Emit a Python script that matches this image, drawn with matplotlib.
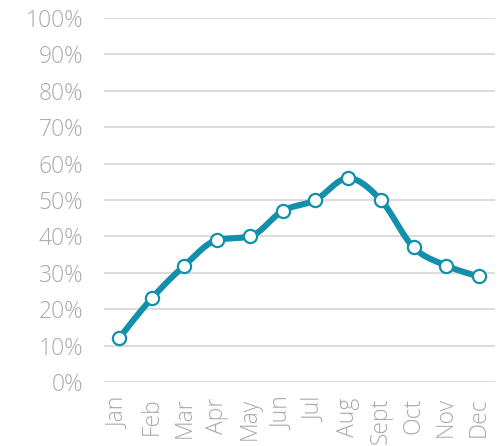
import numpy as np
import matplotlib
matplotlib.use("Agg")
import matplotlib.pyplot as plt

months = ["Jan", "Feb", "Mar", "Apr", "May", "Jun", "Jul", "Aug", "Sept", "Oct", "Nov", "Dec"]
values = [12, 23, 32, 39, 40, 47, 50, 56, 50, 37, 32, 29]
y_ticks = [0, 10, 20, 30, 40, 50, 60, 70, 80, 90, 100]

TEAL = "#118fab"
GRAY = "#aaaaaa"
GRID = "#dcdcdc"


def monotone_curve(x, y, n=30):
    # monotone cubic (like d3 curveMonotoneX), only used to draw the smooth line
    x = np.asarray(x, float)
    y = np.asarray(y, float)
    h = np.diff(x)
    s = np.diff(y) / h
    m = np.zeros_like(y)
    for i in range(1, len(y) - 1):
        if s[i - 1] * s[i] <= 0:
            m[i] = 0
        else:
            p = (s[i - 1] * h[i] + s[i] * h[i - 1]) / (h[i - 1] + h[i])
            m[i] = (np.sign(s[i - 1]) + np.sign(s[i])) * min(abs(s[i - 1]), abs(s[i]), 0.5 * abs(p))
    m[0] = (3 * s[0] - m[1]) / 2 if len(y) > 2 else s[0]
    m[-1] = (3 * s[-1] - m[-2]) / 2 if len(y) > 2 else s[-1]
    xs, ys = [], []
    for i in range(len(x) - 1):
        t = np.linspace(0, 1, n)
        h00 = 2 * t**3 - 3 * t**2 + 1
        h10 = t**3 - 2 * t**2 + t
        h01 = -2 * t**3 + 3 * t**2
        h11 = t**3 - t**2
        xs.append(x[i] + t * h[i])
        ys.append(h00 * y[i] + h10 * h[i] * m[i] + h01 * y[i + 1] + h11 * h[i] * m[i + 1])
    return np.concatenate(xs), np.concatenate(ys)


fig = plt.figure(figsize=(5.02, 4.46), dpi=100)
ax = fig.add_axes([104 / 502, 1 - 382 / 446, 391 / 502, 364 / 446])

x = np.arange(len(months))
cx, cy = monotone_curve(x, values)
ax.plot(cx, cy, color=TEAL, lw=4.4, solid_capstyle="round", zorder=3)
ax.plot(x, values, ls="none", marker="o", ms=9.5, mfc="white", mec=TEAL, mew=1.6, zorder=4)

ax.set_xlim(-0.46, 11.49)
ax.set_ylim(0, 100)
ax.set_yticks(y_ticks)
ax.set_yticklabels([f"{v}%" for v in y_ticks])
ax.set_xticks(x)
ax.set_xticklabels(months, rotation=90)

for v in y_ticks:
    ax.axhline(v, color=GRID, lw=1.5, zorder=1)

for s in ax.spines.values():
    s.set_visible(False)
ax.tick_params(length=0, labelsize=16.5, labelcolor=GRAY)
ax.tick_params(axis="y", pad=15)
ax.tick_params(axis="x", pad=11)
for lab in ax.get_xticklabels() + ax.get_yticklabels():
    lab.set_fontfamily("Open Sans")
    lab.set_fontweight(300)

fig.savefig("out.png", dpi=100)
